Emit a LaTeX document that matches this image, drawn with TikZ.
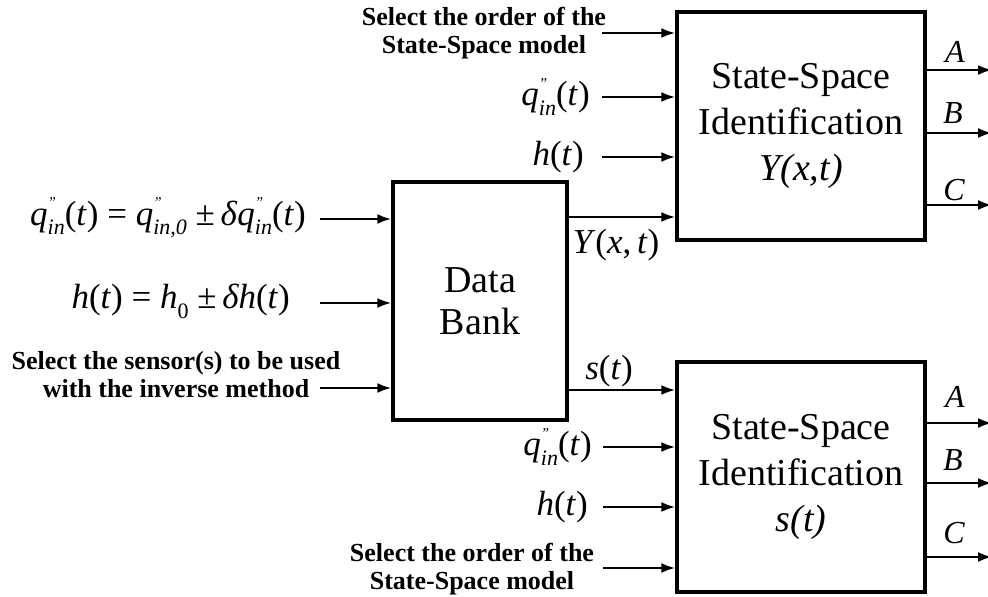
\documentclass[tikz,border=0pt]{standalone}
\usepackage{fontspec}
\setmainfont{Liberation Serif}
\usetikzlibrary{arrows.meta}
\newcommand{\qin}[1][in]{\textit{q}\rlap{\raisebox{0.5em}{\fontsize{15}{15}\selectfont\textit{''}}}\raisebox{-0.28em}{\fontsize{22}{22}\selectfont\textit{#1}}}
\begin{document}
\begin{tikzpicture}[x=1pt,y=-1pt,
  box/.style={draw, line width=3.4pt, inner sep=0pt, align=center,
              font=\fontsize{38}{46}\selectfont},
  arr/.style={line width=2.4pt, -{Latex[length=14pt,width=10pt]}},
  lab/.style={font=\fontsize{35}{40}\selectfont, inner sep=0pt},
  sel/.style={font=\bfseries\fontsize{26}{28}\selectfont, align=center, inner sep=0pt},
  outl/.style={font=\itshape\fontsize{32}{34}\selectfont, inner sep=0pt}]
\useasboundingbox (0,0) rectangle (988,597);

% boxes
\node[box, minimum width=248pt, minimum height=228pt] (ssi1) at (801,126)
  {State-Space\\Identification\\\textit{Y(x,t)}};
\node[box, minimum width=248pt, minimum height=230pt] (ssi2) at (801,477)
  {State-Space\\Identification\\\textit{s(t)}};
\node[box, minimum width=174pt, minimum height=238pt, font=\fontsize{38}{42}\selectfont] (db) at (480,301)
  {Data\\Bank};

% inputs of the top identification box
\coordinate (t1) at (602,33);
\coordinate (t2) at (602,97);
\coordinate (t3) at (602,157);
\node[sel] (selt) at (484,33) {Select the order of the\\State-Space model};
\node[lab, anchor=east] (qt) at (590,97) {\qin(\textit{t})};
\node[lab, anchor=east] (ht) at (584,157) {\textit{h}(\textit{t})};
\draw[arr] (t1) -- (ssi1.west |- t1);
\draw[arr] (t2) -- (ssi1.west |- t2);
\draw[arr] (t3) -- (ssi1.west |- t3);

% data bank outputs
\coordinate (yo) at (567,217);
\coordinate (so) at (567,390);
\draw[arr] (db.east |- yo) -- (ssi1.west |- yo);
\draw[arr] (db.east |- so) -- (ssi2.west |- so);
\node[lab] (ylab) at (616,245) {\textit{Y}(\textit{x},\,\textit{t})};
\node[lab] (slab) at (609,371) {\textit{s}(\textit{t})};

% inputs of the data bank
\coordinate (d1) at (320,219);
\coordinate (d2) at (320,303);
\coordinate (d3) at (320,388);
\node[lab, anchor=east] (qeq) at (306,218)
  {\qin(\textit{t}) = \qin[in,0] ±\,\textit{δ}\qin(\textit{t})};
\node[lab, anchor=east] (heq) at (290,301)
  {\textit{h}(\textit{t}) = \textit{h}\raisebox{-0.28em}{\fontsize{22}{22}\selectfont 0} ±\,\textit{δh}(\textit{t})};
\node[sel] (sens) at (176,375) {Select the sensor(s) to be used\\with the inverse method};
\draw[arr] (d1) -- (db.west |- d1);
\draw[arr] (d2) -- (db.west |- d2);
\draw[arr] (d3) -- (db.west |- d3);

% inputs of the bottom identification box
\coordinate (b2) at (603,447);
\coordinate (b3) at (603,507);
\coordinate (b4) at (603,568);
\node[lab, anchor=east] (qb) at (592,447) {\qin(\textit{t})};
\node[lab, anchor=east] (hb) at (588,507) {\textit{h}(\textit{t})};
\node[sel] (selb) at (472,569) {Select the order of the\\State-Space model};
\draw[arr] (b2) -- (ssi2.west |- b2);
\draw[arr] (b3) -- (ssi2.west |- b3);
\draw[arr] (b4) -- (ssi2.west |- b4);

% outputs
\coordinate (oa1) at (992,70);
\coordinate (ob1) at (992,133);
\coordinate (oc1) at (992,205);
\coordinate (oa2) at (992,423);
\coordinate (ob2) at (992,483);
\coordinate (oc2) at (992,557);
\draw[arr] (ssi1.east |- oa1) -- (oa1);
\draw[arr] (ssi1.east |- ob1) -- (ob1);
\draw[arr] (ssi1.east |- oc1) -- (oc1);
\draw[arr] (ssi2.east |- oa2) -- (oa2);
\draw[arr] (ssi2.east |- ob2) -- (ob2);
\draw[arr] (ssi2.east |- oc2) -- (oc2);
\node[outl] (la1) at (955,52) {A};
\node[outl] (lb1) at (953,113) {B};
\node[outl] (lc1) at (954,190) {C};
\node[outl] (la2) at (955,397) {A};
\node[outl] (lb2) at (953,460) {B};
\node[outl] (lc2) at (954,533) {C};
\end{tikzpicture}
\end{document}
